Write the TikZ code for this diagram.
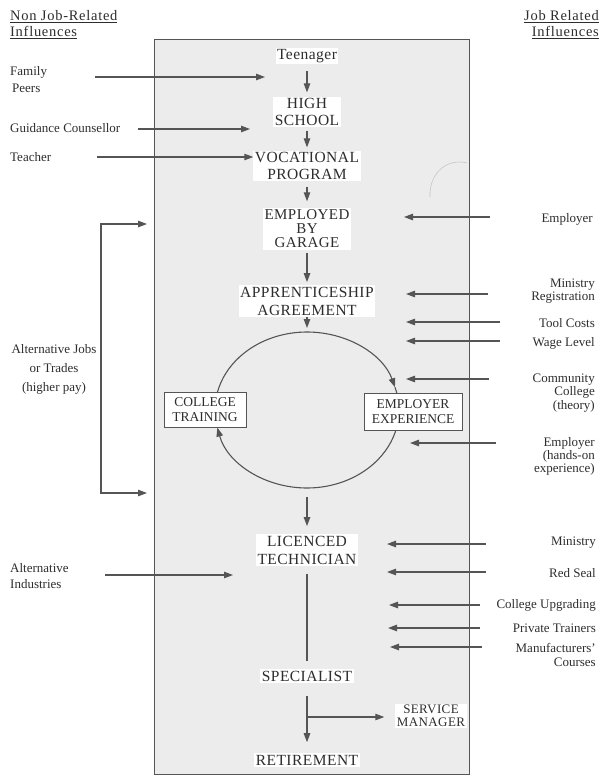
\documentclass[tikz,border=0pt]{standalone}
\usepackage{fontspec}
\setmainfont{Liberation Serif}
\usetikzlibrary{arrows.meta,calc}
\definecolor{boxfill}{RGB}{236,236,236}
\definecolor{inkc}{RGB}{85,85,85}
\definecolor{textc}{RGB}{45,45,45}
\begin{document}
\begin{tikzpicture}[x=1pt,y=1pt,
  ln/.style={draw=inkc,line width=1.1pt},
  arr/.style={ln,-{Triangle[length=9pt,width=6.5pt]}},
  barr/.style={ln,{Triangle[length=9pt,width=6.5pt]}-{Triangle[length=9pt,width=6.5pt]}},
  stage/.style={fill=white,inner sep=1.5pt,align=center,text=textc,
    font=\fontsize{15.5}{17.5}\selectfont\addfontfeatures{LetterSpace=3}},
  phase/.style={draw=inkc,line width=0.9pt,fill=white,inner sep=1pt,align=center,text=textc,
    font=\fontsize{13.5}{15}\selectfont},
  lside/.style={anchor=west,inner sep=0pt,align=left,text=textc,font=\fontsize{13}{15}\selectfont},
  rside/.style={anchor=east,inner sep=0pt,align=right,text=textc,font=\fontsize{13}{13}\selectfont},
  heading/.style={inner sep=0pt,text=textc,font=\fontsize{14.5}{16}\selectfont\addfontfeatures{LetterSpace=5}},
  ell/.style={x radius=92,y radius=78}
]
\useasboundingbox (0,0) rectangle (600,-776);
% main panel
\fill[boxfill,draw=inkc,line width=0.9pt] (154,-39) rectangle (469,-774);
\draw[draw=gray!45,line width=0.6pt] (430,-197) .. controls (429,-172) and (448,-158) .. (467,-163);

% headings
\node[heading,anchor=west,align=left] (hl) at (10,-25) {\underline{Non Job-Related}\\\underline{Influences}};
\node[heading,anchor=east,align=right] (hr) at (599,-25) {\underline{Job Related}\\\underline{Influences}};

% career stages
\node[stage] (teen) at (307,-56) {Teenager};
\node[stage] (hs) at (307,-112) {HIGH\\SCHOOL};
\node[stage] (voc) at (307,-166) {VOCATIONAL\\PROGRAM};
\node[stage,font=\fontsize{15}{14}\selectfont\addfontfeatures{LetterSpace=3}] (emp) at (307,-229) {EMPLOYED\\BY\\GARAGE};
\node[stage,font=\fontsize{15.5}{18}\selectfont\addfontfeatures{LetterSpace=3}] (app) at (307,-301) {APPRENTICESHIP\\AGREEMENT};

% training cycle
\coordinate (cyc) at (307,-410);
\coordinate (cycN) at (307,-332);
\coordinate (cycS) at (307,-488);
\coordinate (cycR) at ($(cyc)+(17:92 and 78)$);
\coordinate (cycL) at ($(cyc)+(193:92 and 78)$);
\draw[arr] (cycN) arc[start angle=90,end angle=17,ell];
\draw[ln] (cycR) arc[start angle=17,end angle=-90,ell];
\draw[arr] (cycS) arc[start angle=270,end angle=193,ell];
\draw[ln] (cycL) arc[start angle=193,end angle=90,ell];
\node[phase,minimum width=82pt,minimum height=35pt] (ct) at (205,-410) {COLLEGE\\TRAINING};
\node[phase,minimum width=98pt,minimum height=37pt] (ee) at (413,-411.5) {EMPLOYER\\EXPERIENCE};

\node[stage,font=\fontsize{15.5}{18}\selectfont\addfontfeatures{LetterSpace=3}] (lic) at (307,-550) {LICENCED\\TECHNICIAN};
\node[stage] (spec) at (307,-676) {SPECIALIST};
\node[stage,font=\fontsize{13}{12.5}\selectfont\addfontfeatures{LetterSpace=3}] (sm) at (431,-716) {SERVICE\\MANAGER};
\node[stage] (ret) at (307,-760) {RETIREMENT};

\draw[arr] ([yshift=-7pt]teen.south) -- ([yshift=4pt]hs.north);
\draw[arr] ([yshift=-3pt]hs.south) -- ([yshift=3pt]voc.north);
\draw[arr] ([yshift=-5pt]voc.south) -- ([yshift=7pt]emp.north);
\draw[arr] ([yshift=-3pt]emp.south) -- ([yshift=3pt]app.north);
\draw[arr] (app.south) -- ([yshift=4pt]cycN);
\draw[arr] ([yshift=-9pt]cycS) -- ([yshift=8pt]lic.north);
\draw[ln] ([yshift=-8pt]lic.south) -- ([yshift=8pt]spec.north);
\draw[arr] ([yshift=-13pt]spec.south) -- ([yshift=11pt]ret.north);
\coordinate (br) at (307,-717);
\draw[arr] (br) -- ([xshift=-11pt]sm.west |- br);

% non job-related influences
\node[lside,font=\fontsize{13}{17}\selectfont] (fam) at (10,-79.5) {Family\\\hspace*{2pt}Peers};
\node[lside] (gc) at (10,-128) {Guidance Counsellor};
\node[lside] (tea) at (10,-157) {Teacher};
\node[inner sep=0pt,align=center,text=textc,font=\fontsize{13}{19}\selectfont] (aj) at (54,-369) {Alternative Jobs\\or Trades\\(higher pay)};
\node[lside,font=\fontsize{13}{16}\selectfont] (ai) at (10,-576) {Alternative\\Industries};

\coordinate (famS) at (95,-77);   \coordinate (famT) at (265,-77);
\coordinate (gcS) at (138,-129);  \coordinate (gcT) at (250,-129);
\coordinate (teaS) at (97,-157);
\coordinate (ajA) at (147,-224);  \coordinate (ajB) at (101,-224);
\coordinate (ajC) at (101,-493);  \coordinate (ajD) at (147,-493);
\coordinate (aiS) at (105,-575);  \coordinate (aiT) at (233,-575);
\draw[arr] (famS) -- (famT);
\draw[arr] (gcS) -- (gcT);
\draw[arr] (teaS) -- (voc.west |- teaS);
\draw[barr] (ajA) -- (ajB) -- (ajC) -- (ajD);
\draw[arr] (aiS) -- (aiT);

% job related influences
\node[rside] (r1) at (593,-219) {Employer};
\node[rside] (r2) at (595,-291.5) {Ministry\\Registration};
\node[rside] (r3) at (595,-323) {Tool Costs};
\node[rside] (r4) at (595,-343) {Wage Level};
\node[rside,font=\fontsize{13}{13.5}\selectfont] (r5) at (595,-393) {Community\\College\\(theory)};
\node[rside] (r6) at (595,-456) {Employer\\(hands-on\\experience)};
\node[rside] (r7) at (596,-543) {Ministry};
\node[rside] (r8) at (596,-573) {Red Seal};
\node[rside] (r9) at (596,-605) {College Upgrading};
\node[rside] (r10) at (596,-628) {Private Trainers};
\node[rside,font=\fontsize{13}{14}\selectfont] (r11) at (596,-655) {Manufacturers'\\Courses};

\coordinate (s1) at (490,-217);  \coordinate (t1) at (404,-217);
\coordinate (s2) at (488,-294);  \coordinate (t2) at (406,-294);
\coordinate (s3) at (500,-322);  \coordinate (t3) at (406,-322);
\coordinate (s4) at (500,-341);  \coordinate (t4) at (406,-341);
\coordinate (s5) at (489,-379);  \coordinate (t5) at (406,-379);
\coordinate (s6) at (496,-443);  \coordinate (t6) at (410,-443);
\coordinate (s7) at (486,-544);  \coordinate (t7) at (387,-544);
\coordinate (s8) at (486,-572);  \coordinate (t8) at (387,-572);
\coordinate (s9) at (480,-605);  \coordinate (t9) at (389,-605);
\coordinate (s10) at (480,-628); \coordinate (t10) at (388,-628);
\coordinate (s11) at (482,-647); \coordinate (t11) at (390,-647);
\foreach \i in {1,...,11} {\draw[arr] (s\i) -- (t\i);}
\end{tikzpicture}
\end{document}
